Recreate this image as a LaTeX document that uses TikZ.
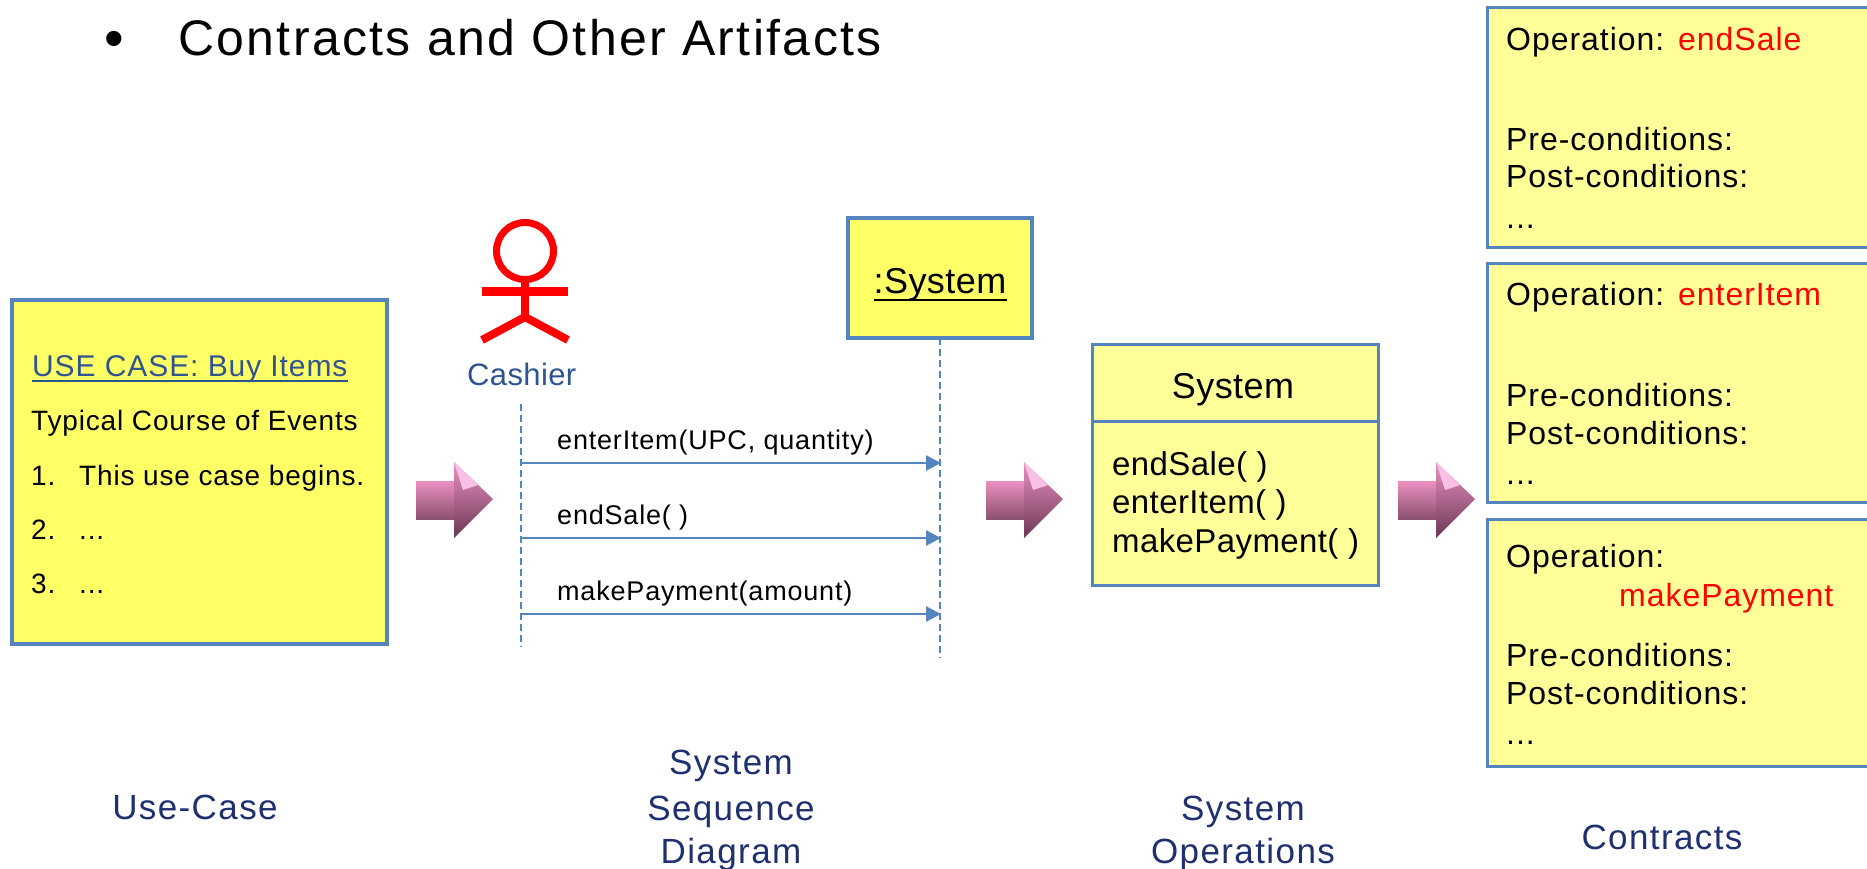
\documentclass[tikz,border=0pt]{standalone}
\usepackage{fontspec}
\setmainfont{Liberation Sans}
\newfontfamily\lsA[LetterSpace=1.2]{Liberation Sans}
\newfontfamily\lsB[LetterSpace=3]{Liberation Sans}
\newfontfamily\lsC[LetterSpace=4]{Liberation Sans}
\newfontfamily\lsD[LetterSpace=4.7]{Liberation Sans}
\usepackage{xcolor}
\usetikzlibrary{calc,positioning,arrows.meta}

\definecolor{boxline}{HTML}{5585BE}
\definecolor{noteyellow}{HTML}{FFFF66}
\definecolor{paleyellow}{HTML}{FFFF99}
\definecolor{navytext}{HTML}{1F3070}
\definecolor{bluetext}{HTML}{2F5590}
\definecolor{pinktop}{HTML}{EB90C0}
\definecolor{pinkmid}{HTML}{C47DA8}
\definecolor{pinkdark}{HTML}{6B3755}
\definecolor{pinkshaft}{HTML}{8C5070}
\definecolor{pinklight}{HTML}{F8C0E4}
\newcommand{\fsz}[1]{\fontsize{#1}{#1}\selectfont}

\tikzset{
    txt/.style={inner sep=0pt, anchor=base west},
    caption/.style={inner sep=0pt, anchor=base, text=navytext, font={\lsC\fsz{35}}},
    notebox/.style={draw=boxline, line width=3.5pt, fill=noteyellow, anchor=north west, inner sep=0pt, outer sep=0pt},
    palebox/.style={draw=boxline, line width=3pt, fill=paleyellow, anchor=north west, inner sep=0pt, outer sep=0pt},
    lifeline/.style={draw=boxline, line width=2pt, dash pattern=on 7pt off 4pt},
    msg/.style={draw=boxline, line width=2.5pt, -{Triangle[length=15pt,width=15pt]}},
    ucline/.style={txt, font={\lsB\fsz{28}}},
    msgline/.style={txt, font={\lsB\fsz{27}}},
    opline/.style={txt, font={\lsA\fsz{33}}},
    conline/.style={txt, font={\lsB\fsz{32}}},
}

\begin{document}
\begin{tikzpicture}[x=1pt, y=-1pt]
    \clip (0,0) rectangle (1867,869);
    \useasboundingbox (0,0) rectangle (1867,869);

    % Heading
    \node [txt, font=\fsz{56}] (bullet) at (104,58) {•};
    \node [txt, font={\lsD\fsz{50}}] (heading) at (178,56) {Contracts and Other Artifacts};

    % Use case
    \node [notebox, minimum width=375pt, minimum height=344pt] (usecase) at (12,300) {};
    \node [txt, font={\lsB\fsz{30}}, text=bluetext] (ucTitle) at (32,376) {USE CASE: Buy Items};
    \draw[bluetext, line width=2pt] ($(ucTitle.base west)+(0,5)$) -- ($(ucTitle.base east)+(0,5)$);
    \node [ucline] (ucCourse) at (31,430) {Typical Course of Events};
    \node [ucline] (ucOne) at (31,485) {1.};
    \node [ucline] (ucOneText) at (79,485) {This use case begins.};
    \node [ucline] (ucTwo) at (31,539) {2.};
    \node [ucline] (ucTwoText) at (79,539) {...};
    \node [ucline] (ucThree) at (31,593) {3.};
    \node [ucline] (ucThreeText) at (79,593) {...};

    % Actor
    \node [circle, draw=red, line width=7pt, minimum size=57pt, inner sep=0pt, outer sep=0pt] (head) at (525,251) {};
    \coordinate (armL) at (482,291);
    \coordinate (armR) at (568,291);
    \coordinate (hip) at (525,317);
    \coordinate (footL) at (482,340);
    \coordinate (footR) at (568,340);
    \draw[red, line width=9pt] (armL) -- (armR);
    \draw[red, line width=8pt] (head.south) -- (hip);
    \draw[red, line width=8pt] (footL) -- (hip) -- (footR);
    \node [txt, font={\lsA\fsz{31}}, text=bluetext] (cashier) at (467,385) {Cashier};

    % Sequence
    \node [notebox, line width=4pt, minimum width=184pt, minimum height=120pt] (sysbox) at (848,218) {};
    \node [txt, anchor=base, font={\lsA\fsz{36}}] (sysname) at (940,293) {:System};
    \draw[line width=2.5pt] ($(sysname.base west)+(0,7)$) -- ($(sysname.base east)+(0,7)$);
    \coordinate (cashTop) at (521,404);
    \coordinate (cashEnd) at (521,647);
    \coordinate (sysEnd) at (940,658);
    \draw[lifeline] (cashTop) -- (cashEnd);
    \draw[lifeline] (sysbox.south) -- (sysEnd);
    \foreach \name/\ypos in {A/463, B/538, C/614} {
        \coordinate (cash\name) at (521,\ypos);
        \coordinate (sys\name) at (941,\ypos);
        \draw[msg] (cash\name) -- (sys\name);
    }
    \node [msgline] (msgA) at (557,449) {enterItem(UPC, quantity)};
    \node [msgline] (msgB) at (557,524) {endSale( )};
    \node [msgline] (msgC) at (557,600) {makePayment(amount)};

    % Pink arrows
    \foreach \xpos in {416, 986, 1398} {
        \begin{scope}[shift={(\xpos,500)}]
            \shade[top color=pinktop, bottom color=pinkshaft] (0,-19) rectangle (39,19);
            \shade[top color=pinktop, middle color=pinkmid, bottom color=pinkdark] (38,-38) -- (77,-1) -- (38,38) -- cycle;
            \fill[pinklight] (38,-38) -- (62,-15) -- (47,-10) -- cycle;
        \end{scope}
    }

    % System operations
    \node [palebox, minimum width=286pt, minimum height=241pt] (operations) at (1092,344) {};
    \draw[draw=boxline, line width=3pt] (operations.west |- 0,421) -- (operations.east |- 0,421);
    \node [txt, anchor=base, font={\lsA\fsz{36}}] (opTitle) at (1233,398) {System};
    \node [opline] (opA) at (1112,475) {endSale( )};
    \node [opline] (opB) at (1112,513) {enterItem( )};
    \node [opline] (opC) at (1112,552) {makePayment( )};

    % Contracts
    \node [palebox, minimum width=400pt, minimum height=239pt] (contractA) at (1487,8) {};
    \node [palebox, minimum width=400pt, minimum height=239pt] (contractB) at (1487,263) {};
    \node [palebox, minimum width=400pt, minimum height=247pt] (contractC) at (1487,519) {};
    \foreach \name/\first/\pre/\post/\more in {A/51/151/188/228, B/305/406/444/484, C/567/666/704/744} {
        \node [conline] (oper\name) at (1506,\first) {Operation:};
        \node [conline] (pre\name) at (1506,\pre) {Pre-conditions:};
        \node [conline] (post\name) at (1506,\post) {Post-conditions:};
        \node [conline] (more\name) at (1506,\more) {...};
    }
    \node [conline, text=red] (nameA) at (1678,51) {endSale};
    \node [conline, text=red] (nameB) at (1678,305) {enterItem};
    \node [conline, text=red] (nameC) at (1619,606) {makePayment};

    % Captions
    \node [caption] (capUse) at (195,819) {Use-Case};
    \node [caption] (capSeqA) at (731,774) {System};
    \node [caption] (capSeqB) at (731,820) {Sequence};
    \node [caption] (capSeqC) at (731,863) {Diagram};
    \node [caption] (capOpA) at (1243,820) {System};
    \node [caption] (capOpB) at (1243,863) {Operations};
    \node [caption] (capCon) at (1662,849) {Contracts};
\end{tikzpicture}
\end{document}
